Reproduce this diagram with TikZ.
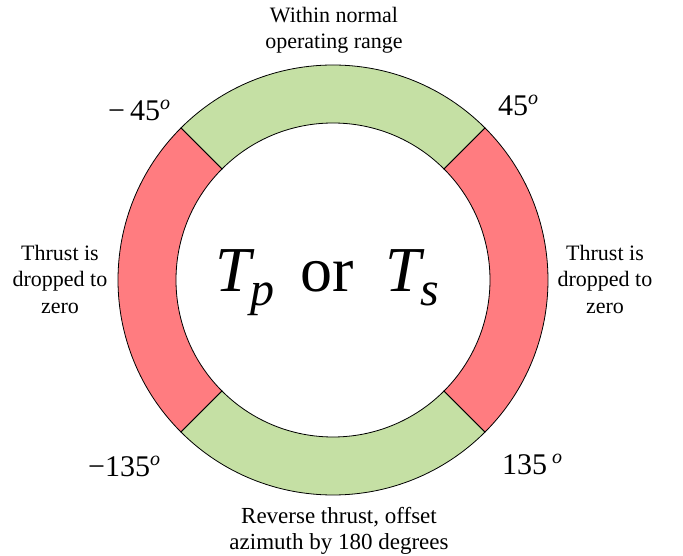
\documentclass[tikz,border=0pt]{standalone}
\usepackage{fontspec}
\setmainfont{LiberationSerif}[Extension=.ttf, UprightFont=*-Regular, ItalicFont=*-Italic, BoldFont=*-Bold, BoldItalicFont=*-BoldItalic]

\definecolor{okgreen}{RGB}{197,224,164}
\definecolor{cutred}{RGB}{255,124,128}
\newcommand{\supo}{\raisebox{11pt}{\fontsize{20}{20}\selectfont\itshape o}}
\newcommand{\subsc}[1]{\raisebox{-14pt}{\fontsize{48}{48}\selectfont\itshape #1}}

\begin{document}
\begin{tikzpicture}[x=1pt,y=1pt,
  note/.style={align=center, font=\fontsize{22}{26.5}\selectfont},
  anglab/.style={anchor=base west, inner sep=0pt, font=\fontsize{30}{30}\selectfont},
  big/.style={anchor=base west, inner sep=0pt, font=\fontsize{64}{64}\selectfont}]
  \useasboundingbox (-333,-276) rectangle (350,280);

  % ring
  \foreach \a/\c in {45/okgreen, 135/cutred, 225/okgreen, -45/cutred}
    \draw[line width=0.8pt, fill=\c] (\a:215) arc[start angle=\a, delta angle=90, radius=215]
      -- (\a+90:157) arc[start angle=\a+90, delta angle=-90, radius=157] -- cycle;

  % sector notes
  \node[note] (normal) at (1,250) {Within normal\\operating range};
  \node[note] (dropl) at (-273,1) {Thrust is\\dropped to\\zero};
  \node[note] (dropr) at (272,1) {Thrust is\\dropped to\\zero};
  \node[note, font=\fontsize{23}{26.5}\selectfont] (reverse) at (6,-251) {Reverse thrust, offset\\azimuth by 180 degrees};

  % angles
  \node[anglab] (m45) at (-225,159) {−\,45\supo};
  \node[anglab] (p45) at (165,164) {45\supo};
  \node[anglab] (m135) at (-245,-197) {−135\supo};
  \node[anglab] (p135) at (169,-195) {135\,\supo};

  \node[big] (tp) at (-118,-12) {\itshape T\subsc{p}};
  \node[big] (or) at (-33,-12) {or};
  \node[big] (ts) at (52,-12) {\itshape T\subsc{s}};
\end{tikzpicture}
\end{document}
